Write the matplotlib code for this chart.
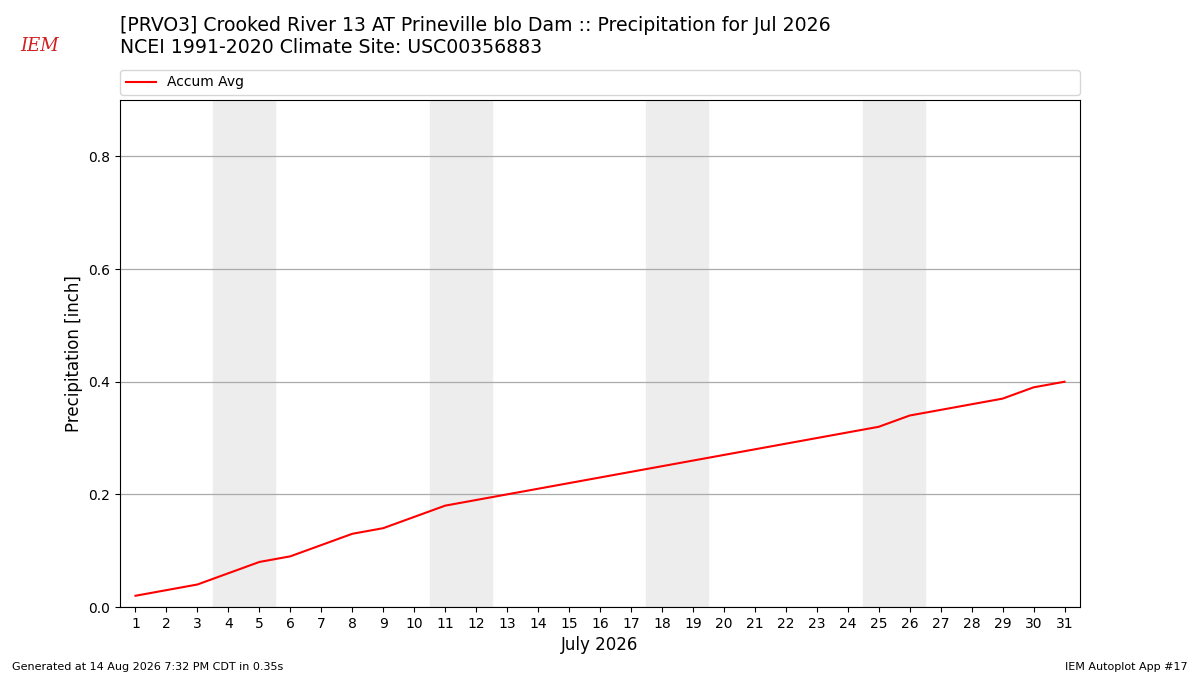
import matplotlib
matplotlib.use("Agg")
import matplotlib.pyplot as plt

days = list(range(1, 32))
accum_avg = [0.02, 0.03, 0.04, 0.06, 0.08, 0.09, 0.11, 0.13, 0.14, 0.16,
             0.18, 0.19, 0.20, 0.21, 0.22, 0.23, 0.24, 0.25, 0.26, 0.27,
             0.28, 0.29, 0.30, 0.31, 0.32, 0.34, 0.35, 0.36, 0.37, 0.39, 0.40]
weekends = [4, 11, 18, 25]  # saturdays, shading covers sat+sun

title = ("[PRVO3] Crooked River 13 AT Prineville blo Dam :: Precipitation for Jul 2026\n"
         "NCEI 1991-2020 Climate Site: USC00356883")

fig = plt.figure(figsize=(12, 6.75), dpi=100)
ax = fig.add_axes([0.1, 0.1007, 0.8, 0.751])

for sat in weekends:
    ax.axvspan(sat - 0.5, sat + 1.5, color="#ededed", zorder=0)

ax.plot(days, accum_avg, color="r", lw=1.5, label="Accum Avg", zorder=3)

ax.set_xlim(0.5, 31.5)
ax.set_ylim(0, 0.9)
ax.set_xticks(days)
ax.set_yticks([0.0, 0.2, 0.4, 0.6, 0.8])
ax.yaxis.grid(True, color="#aaaaaa", lw=0.9)
ax.set_axisbelow(True)
ax.tick_params(labelsize=10)
ax.set_xlabel("July 2026", fontsize=12)
ax.set_ylabel("Precipitation [inch]", fontsize=12)

ax.legend(loc="lower left", bbox_to_anchor=(0, 1.01, 1, 0.05), mode="expand",
          fontsize=10, ncol=1, borderaxespad=0, handlelength=2.2)

fig.text(0.1, 0.977, title, fontsize=13.6, ha="left", va="top", linespacing=1.2)
fig.text(0.017, 0.925, "IEM", color="#d02020", fontsize=13, style="italic",
         family="serif")
fig.text(0.01, 0.008, "Generated at 14 Aug 2026 7:32 PM CDT in 0.35s", fontsize=8)
fig.text(0.99, 0.008, "IEM Autoplot App #17", fontsize=8, ha="right")

fig.savefig("out.png", dpi=100)
